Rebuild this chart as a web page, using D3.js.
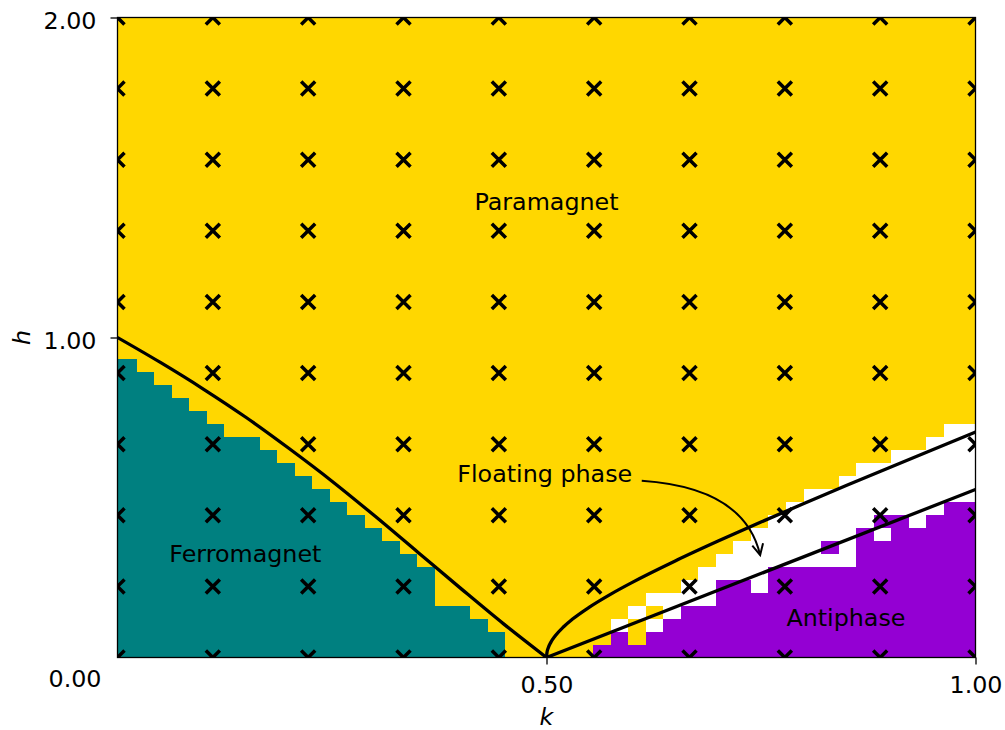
<!DOCTYPE html>
<html><head><meta charset="utf-8">
<script src="https://cdn.jsdelivr.net/npm/d3@7"></script>
<style>
body{margin:0;background:#fff}
svg{display:block}
text{font-family:"DejaVu Sans",sans-serif;fill:#000}
</style>
</head><body>
<svg id="chart" width="1005" height="730"></svg>
<script>
// ---------------- data ----------------
// phase per grid column (k), listed from h = 0 upward as runs; cells above are paramagnet (Y)
const phaseColumns = [
  "F23","F22","F21","F20","F19","F18","F17","F17","F16","F15",
  "F14","F13","F12","F11","F10","F9","F8","F7","F4","F4",
  "F3","F2","","","","","",
  "P1","P2 W1","P1 Y2 W1","P2 W1 Y1 W1","P3 W2","P4 W2","P4 W3","P6 W2","P6 W3",
  "P5 W5","P7 W4","P7 W5","P7 W6","P7 W1 P1 W4","P7 W7","P10 W5","P9 W1 P1 W4",
  "P11 W5","P10 W6","P11 W6","P12 W6","P12 W6"
];
const nRows = 50;
const gridK0 = 0.002, gridDk = 0.02045, gridDh = 0.0406;
const phaseColors = {F:"#008080", P:"#9400D3", W:"#ffffff", Y:"#FFD700"};

// ferromagnet / paramagnet boundary
const ferroK = [0, 0.05, 0.10, 0.15, 0.20, 0.25, 0.30, 0.35, 0.40, 0.45, 0.50];
const ferroH = [1.0, 0.922, 0.839, 0.750, 0.653, 0.551, 0.442, 0.329, 0.216, 0.105, 0.0];
// floating / paramagnet boundary
const ktK = [0.5, 0.5005, 0.502, 0.505, 0.51, 0.52, 0.53, 0.55, 0.575, 0.6, 0.65, 0.7, 0.75, 0.8, 0.85, 0.9, 0.95, 1.0];
const ktH = [0, 0.0149, 0.0298, 0.0473, 0.0672, 0.0962, 0.1193, 0.1575, 0.1982, 0.2348, 0.3016, 0.3637, 0.4233, 0.4812, 0.538, 0.594, 0.6494, 0.7043];
// floating / antiphase boundary
const ciK = [0.5, 1.0];
const ciH = [0.0, 0.525];

// sample points (crosses)
const sampleK = [0, 1/9, 2/9, 3/9, 4/9, 5/9, 6/9, 7/9, 8/9, 1];
const sampleH = [0, 2/9, 4/9, 6/9, 8/9, 10/9, 12/9, 14/9, 16/9, 2];

const xTicks = [0.5, 1.0];
const yTicks = [1.0, 2.0];

const regionLabels = [
  {text:"Paramagnet", k:0.5, h:1.425},
  {text:"Ferromagnet", k:0.149, h:0.325},
  {text:"Antiphase", k:0.849, h:0.125},
  {text:"Floating phase", k:0.498, h:0.575}
];
const arrowFrom = [0.611, 0.552], arrowCtrl = [0.731, 0.530], arrowTo = [0.749, 0.320];

// ---------------- layout ----------------
const L = 117.5, R = 975.5, T = 17.5, B = 657.5;
const FS = 23.8;
const svg = d3.select("#chart");
const x = d3.scaleLinear().domain([0, 1]).range([L, R]);
const y = d3.scaleLinear().domain([0, 2]).range([B, T]);

svg.append("defs").append("clipPath").attr("id","plotclip")
  .append("rect").attr("x", L).attr("y", T).attr("width", R - L).attr("height", B - T);

const plot = svg.append("g").attr("clip-path","url(#plotclip)");

// decode runs into cell rectangles
const cells = [];
phaseColumns.forEach((col, c) => {
  let row = 0;
  col.split(" ").filter(s => s.length).forEach(tok => {
    const ph = tok[0], n = +tok.slice(1);
    cells.push({c, r0: row, r1: row + n, ph});
    row += n;
  });
  cells.push({c, r0: row, r1: nRows, ph: "Y"});
});
const kEdge = c => c === 0 ? 0 : gridK0 + c * gridDk;

plot.append("g").selectAll("rect").data(cells).join("rect")
  .attr("x", d => x(kEdge(d.c)))
  .attr("width", d => x(kEdge(d.c + 1)) - x(kEdge(d.c)))
  .attr("y", d => y(d.r1 * gridDh))
  .attr("height", d => y(d.r0 * gridDh) - y(d.r1 * gridDh))
  .attr("fill", d => phaseColors[d.ph])
  .attr("shape-rendering","crispEdges");

// crosses
const pts = [];
sampleK.forEach(k => sampleH.forEach(h => pts.push([k, h])));
const m = 7;
plot.append("g").selectAll("path").data(pts).join("path")
  .attr("d", d => {
    const px = x(d[0]), py = y(d[1]);
    return `M${px-m},${py-m}L${px+m},${py+m}M${px-m},${py+m}L${px+m},${py-m}`;
  })
  .attr("stroke","#000").attr("stroke-width",3.5).attr("fill","none");

// boundary lines
const line = d3.line().x(d => x(d[0])).y(d => y(d[1])).curve(d3.curveMonotoneX);
[[ferroK, ferroH], [ktK, ktH], [ciK, ciH]].forEach(([ks, hs]) => {
  plot.append("path").datum(ks.map((k, i) => [k, hs[i]]))
    .attr("d", line).attr("fill","none").attr("stroke","#000").attr("stroke-width",3.3);
});

// region labels
svg.append("g").selectAll("text").data(regionLabels).join("text")
  .attr("x", d => x(d.k)).attr("y", d => y(d.h))
  .attr("text-anchor","middle").attr("dominant-baseline","central")
  .style("font-size", FS + "px").text(d => d.text);

// curved arrow
const p0 = [x(arrowFrom[0]), y(arrowFrom[1])];
const pc = [x(arrowCtrl[0]), y(arrowCtrl[1])];
const p2 = [x(arrowTo[0]), y(arrowTo[1])];
svg.append("path")
  .attr("d", `M${p0[0]},${p0[1]}Q${pc[0]},${pc[1]} ${p2[0]},${p2[1]}`)
  .attr("fill","none").attr("stroke","#000").attr("stroke-width",2);
{
  const dx = p2[0] - pc[0], dy = p2[1] - pc[1], len = Math.hypot(dx, dy);
  const ux = dx / len, uy = dy / len, hl = 11, hw = 5.5;
  const bx = p2[0] - ux * hl, by = p2[1] - uy * hl;
  svg.append("path")
    .attr("d", `M${bx - uy*hw},${by + ux*hw}L${p2[0]},${p2[1]}L${bx + uy*hw},${by - ux*hw}`)
    .attr("fill","none").attr("stroke","#000").attr("stroke-width",2);
}

// frame
svg.append("rect").attr("x", L).attr("y", T).attr("width", R - L).attr("height", B - T)
  .attr("fill","none").attr("stroke","#000").attr("stroke-width",1.3);

// axes
const xAxis = svg.append("g").attr("transform", `translate(0,${B})`)
  .call(d3.axisBottom(x).tickValues(xTicks).tickFormat(d3.format(".2f")).tickSize(7).tickPadding(0));
xAxis.select(".domain").remove();
xAxis.selectAll(".tick line").attr("stroke","#000").attr("stroke-width",1.3);
xAxis.selectAll(".tick text").attr("dy", null).attr("y", 35)
  .style("font-size", FS + "px").style("font-family","DejaVu Sans");

const yAxis = svg.append("g").attr("transform", `translate(${L},0)`)
  .call(d3.axisLeft(y).tickValues(yTicks).tickFormat(d3.format(".2f")).tickSize(7).tickPadding(14));
yAxis.select(".domain").remove();
yAxis.selectAll(".tick line").attr("stroke","#000").attr("stroke-width",1.3);
yAxis.selectAll(".tick text").attr("dy", null).attr("y", 10.5)
  .style("font-size", FS + "px").style("font-family","DejaVu Sans");

// lone origin label
svg.append("text").attr("x", L - 16).attr("y", 687).attr("text-anchor","end")
  .style("font-size", FS + "px").text(d3.format(".2f")(0));

// axis titles
svg.append("text").attr("x", (L + R) / 2).attr("y", 725)
  .attr("text-anchor","middle").style("font-size", FS + "px").style("font-style","italic").text("k");
svg.append("text").attr("transform", `translate(30,${(T + B) / 2}) rotate(-90)`)
  .attr("text-anchor","middle").style("font-size", FS + "px").style("font-style","italic").text("h");
</script>
</body></html>
